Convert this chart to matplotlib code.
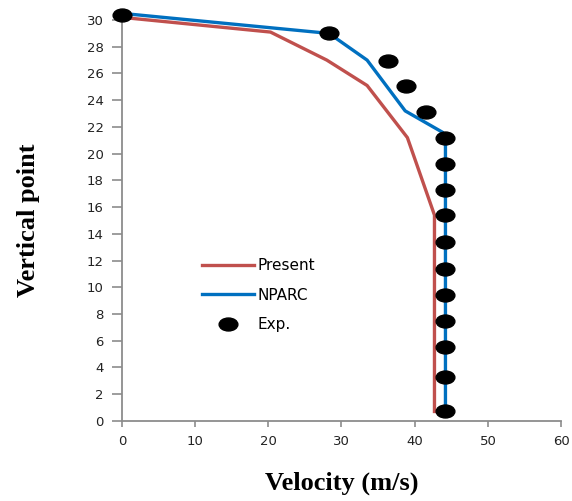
import numpy as np
import matplotlib.pyplot as plt
from matplotlib.path import Path
from matplotlib.transforms import Affine2D

# data
present_v = [0, 20.3, 28.0, 33.5, 39.0, 42.7, 42.7]
present_y = [30.2, 29.1, 27.0, 25.1, 21.2, 15.4, 0.7]

nparc_v = [0, 28.3, 33.5, 38.7, 43.8, 44.2, 44.2]
nparc_y = [30.5, 29.0, 27.0, 23.2, 21.6, 21.2, 0.7]

exp_v = [0, 28.3, 36.4, 38.8, 41.6, 44.2, 44.2, 44.2, 44.2, 44.2, 44.2, 44.2, 44.2, 44.2, 44.2, 44.2]
exp_y = [30.4, 29.0, 26.9, 25.1, 23.1, 21.2, 19.2, 17.3, 15.4, 13.4, 11.4, 9.4, 7.5, 5.5, 3.3, 0.7]

x_ticks = np.arange(0, 61, 10)
y_ticks = np.arange(0, 31, 2)

# ellipse marker like the excel dots
ellipse = Path.unit_circle().transformed(Affine2D().scale(1.45, 1.0))

fig = plt.figure(figsize=(5.72, 5.01), dpi=100)
ax = fig.add_axes([0.213, 0.160, 0.768, 0.800])

ax.plot(present_v, present_y, color='#C0504D', lw=2.4, label='Present', clip_on=False, zorder=2)
ax.plot(nparc_v, nparc_y, color='#0070C0', lw=2.4, label='NPARC', clip_on=False, zorder=3)
ax.plot(exp_v, exp_y, ls='none', marker=ellipse, ms=13.5, color='black', label='Exp.',
        clip_on=False, zorder=4)

ax.set_xlim(0, 60)
ax.set_ylim(0, 30)
ax.set_xticks(x_ticks)
ax.set_yticks(y_ticks)

for s in ['top', 'right']:
    ax.spines[s].set_visible(False)
for s in ['left', 'bottom']:
    ax.spines[s].set_color('#8c8c8c')
    ax.spines[s].set_linewidth(1.3)
ax.tick_params(axis='y', length=7, width=1.2, color='#8c8c8c', labelsize=9.5, labelcolor='#222222', pad=6)
ax.tick_params(axis='x', length=4, width=1.2, color='#8c8c8c', labelsize=9.5, labelcolor='#222222', pad=6)

ax.set_xlabel('Velocity (m/s)', fontfamily='Liberation Serif', fontweight='bold', fontsize=19, labelpad=17)
ax.set_ylabel('Vertical point', fontfamily='Liberation Serif', fontweight='bold', fontsize=19, labelpad=34)

ax.legend(loc='upper left', bbox_to_anchor=(0.151, 0.44), frameon=False, fontsize=11,
          handlelength=3.4, labelspacing=0.95, handletextpad=0.25)

fig.savefig('out.png', dpi=100)
